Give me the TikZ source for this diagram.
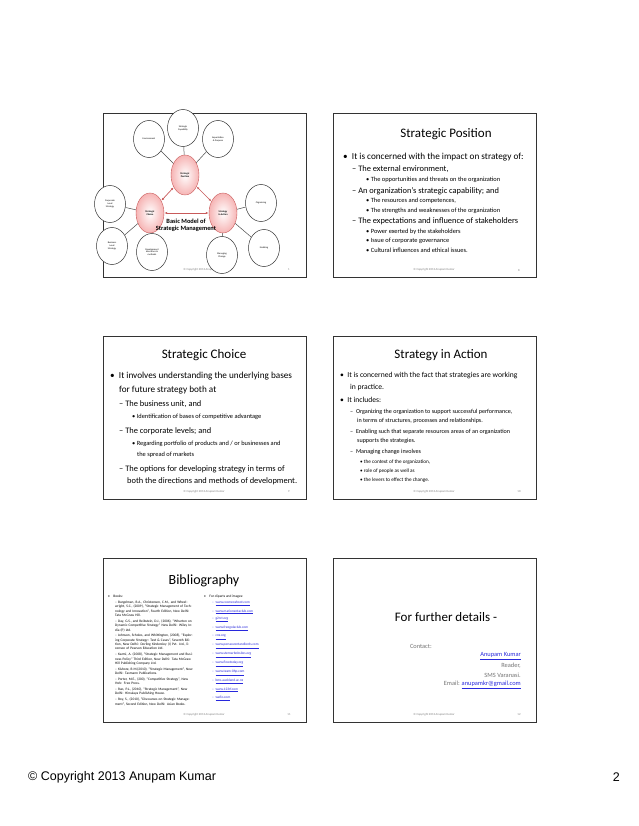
\documentclass[tikz,border=0pt]{standalone}
\usepackage{fontspec}
\setmainfont{Carlito}
\newfontfamily\arialf{Liberation Sans}
\usetikzlibrary{arrows.meta,shapes.geometric}
\definecolor{pinkf}{RGB}{246,180,180}
\definecolor{pinkd}{RGB}{200,90,90}
\definecolor{linkc}{RGB}{40,40,220}
\tikzset{
 slide/.style={draw=black!80,line width=0.8pt,fill=white},
 outer/.style={draw=black!80,ellipse,line width=0.5pt,minimum width=31pt,minimum height=37pt,inner sep=0pt,font=\fontsize{2.4}{2.8}\selectfont,align=center,fill=white},
 inner/.style={draw=pinkd,ellipse,line width=0.4pt,minimum width=28pt,minimum height=40pt,inner sep=0pt,font=\bfseries\fontsize{2.5}{3}\selectfont,align=center,inner color=white,outer color=pinkf},
 stitle/.style={font=\fontsize{13}{15}\selectfont},
 la/.style={anchor=west,inner sep=0pt,font=\fontsize{9.2}{11}\selectfont},
 lb/.style={anchor=west,inner sep=0pt,font=\fontsize{8.4}{10}\selectfont},
 lc/.style={anchor=west,inner sep=0pt,font=\fontsize{6.4}{7.5}\selectfont},
 foot/.style={font=\fontsize{3}{3.5}\selectfont,text=black!50,inner sep=0pt},
 bib/.style={anchor=north west,inner sep=0pt,font=\fontsize{3.5}{4.3}\selectfont,align=left},
 redarr/.style={{Latex[length=3pt]}-{Latex[length=3pt]},draw=pinkd,line width=0.7pt},
 con/.style={draw=black!70,line width=0.5pt}
}
\begin{document}
\begin{tikzpicture}[x=1pt,y=-1pt]
\useasboundingbox[fill=white] (0,0) rectangle (638,826);
% frames
\draw[slide] (103,113) rectangle (306,277);
\draw[slide] (333,113) rectangle (536,277);
\draw[slide] (103,336) rectangle (306,499);
\draw[slide] (333,336) rectangle (536,499);
\draw[slide] (103,558) rectangle (306,722);
\draw[slide] (333,558) rectangle (536,722);
% footers
\foreach \x/\y/\n in {103/270/1,333/270/8,103/492/9,333/492/10,103/715/11,333/715/12}{
 \node[foot] at (\x+101,\y) {© Copyright 2013 Anupam Kumar};
 \node[foot] at (\x+186,\y) {\n};
}
% slide 1
\node[inner] (sp) at (185,175) {Strategic\\Position};
\node[inner] (sc) at (150,213) {Strategic\\Choice};
\node[inner] (sa) at (223,213) {Strategy\\in Action};
\node[outer] (env) at (149,139) {Environment};
\node[outer] (cap) at (183,128) {Strategic\\Capability};
\node[outer] (exp) at (218,139) {Expectation\\\& Purpose};
\node[outer] (cls) at (110,204) {Corporate\\Level\\Strategy};
\node[outer] (bls) at (112,246) {Business\\Level\\Strategy};
\node[outer] (ddm) at (152,252) {Development\\directions \&\\methods};
\node[outer] (org) at (261,203) {Organising};
\node[outer] (ena) at (264,248) {Enabling};
\node[outer] (mch) at (222,255) {Managing\\Change};
\foreach \a/\b in {env/sp,cap/sp,exp/sp,cls/sc,bls/sc,ddm/sc,org/sa,ena/sa,mch/sa}{\draw[con] (\a) -- (\b);}
\draw[redarr] (sp) -- (sc);
\draw[redarr] (sp) -- (sa);
\draw[redarr] (sc) -- (sa);
\node[font=\bfseries\fontsize{6.4}{7.2}\selectfont,align=center,inner sep=1pt] (bm) at (186,225) {Basic Model of\\Strategic Management};
% slide 2
\node[stitle] (t2) at (446,134) {Strategic Position};
\node[la] at (343,157) {•\ \ It is concerned with the impact on strategy of:};
\node[lb] at (352,169) {– The external environment,};
\node[lc] at (366,180) {•\ The opportunities and threats on the organization};
\node[lb] at (352,191) {– An organization’s strategic capability; and};
\node[lc] at (366,201) {•\ The resources and competences,};
\node[lc] at (366,211) {•\ The strengths and weaknesses of the organization};
\node[lb] at (352,221) {– The expectations and influence of stakeholders};
\node[lc] at (366,232) {•\ Power exerted by the stakeholders};
\node[lc] at (366,241) {•\ Issue of corporate governance};
\node[lc] at (366,250) {•\ Cultural influences and ethical issues.};
% slide 3
\node[stitle] (t3) at (204,355) {Strategic Choice};
\node[la,font=\fontsize{9.2}{11}\selectfont] at (110,376) {•\ \ It involves understanding the underlying bases};
\node[la,font=\fontsize{9.2}{11}\selectfont] at (119,390) {for future strategy both at};
\node[la,font=\fontsize{8.4}{10}\selectfont] at (119,404) {– The business unit, and};
\node[lc,font=\fontsize{6.4}{7.5}\selectfont] at (132,417) {•\ Identification of bases of competitive advantage};
\node[la,font=\fontsize{8.4}{10}\selectfont] at (119,431) {– The corporate levels; and};
\node[lc,font=\fontsize{6.4}{7.5}\selectfont] at (132,444) {•\ Regarding portfolio of products and / or businesses and};
\node[lc,font=\fontsize{6.4}{7.5}\selectfont] at (137,455) {the spread of markets};
\node[la,font=\fontsize{8.4}{10}\selectfont] at (119,469) {– The options for developing strategy in terms of};
\node[la,font=\fontsize{8.4}{10}\selectfont] at (127,481) {both the directions and methods of development.};
% slide 4
\node[stitle] (t4) at (441,355) {Strategy in Action};
\node[lb,font=\fontsize{7.6}{9}\selectfont] at (340,376) {•\ \ It is concerned with the fact that strategies are working};
\node[lb,font=\fontsize{7.6}{9}\selectfont] at (350,387) {in practice.};
\node[lb,font=\fontsize{7.6}{9}\selectfont] at (340,400) {•\ \ It includes:};
\node[lc,font=\fontsize{6.1}{7}\selectfont] at (350,412) {–\ \ Organizing the organization to support successful performance,};
\node[lc,font=\fontsize{6.1}{7}\selectfont] at (357,421) {in terms of structures, processes and relationships.};
\node[lc,font=\fontsize{6.1}{7}\selectfont] at (350,432) {–\ \ Enabling such that separate resources areas of an organization};
\node[lc,font=\fontsize{6.1}{7}\selectfont] at (357,441) {supports the strategies.};
\node[lc,font=\fontsize{6.1}{7}\selectfont] at (350,452) {–\ \ Managing change involves};
\node[lc,font=\fontsize{5.2}{6}\selectfont] at (360,462) {•\ the context of the organization,};
\node[lc,font=\fontsize{5.2}{6}\selectfont] at (360,471) {•\ role of people as well as};
\node[lc,font=\fontsize{5.2}{6}\selectfont] at (360,480) {•\ the levers to effect the change.};
% slide 5
\node[stitle,font=\fontsize{14}{16}\selectfont] (t5) at (204,581) {Bibliography};
\node[bib] at (108,595) {•\quad Books:};
\node[bib,text width=80pt] at (115,601) {%
–\ Burgelman, R.A., Christensen, C.M., and Wheelwright, S.C., (2009), ``Strategic Management of Technology and Innovation'', Fourth Edition, New Delhi: Tata McGraw Hill.\\[1.6pt]
–\ Day, G.S., and Reibstein, D.J., (2006), ``Wharton on Dynamic Competitive Strategy'' New Delhi: Wiley India (P) Ltd.\\[1.6pt]
–\ Johnson, Scholes, and Whittington, (2008), ``Exploring Corporate Strategy: Text \& Cases'', Seventh Edition, New Delhi: Dorling Kindersley (I) Pvt. Ltd., licensee of Pearson Education Ltd.\\[1.6pt]
–\ Kazmi, A. (2008), ``Strategic Management and Business Policy'' Third Edition, New Delhi: Tata McGraw Hill Publishing Company Ltd.\\[1.6pt]
–\ Kishore, R.M.(2010), ``Strategic Management'', New Delhi: Taxmann Publications.\\[1.6pt]
–\ Porter, M.E., (200), ``Competitive Strategy'', New York: Free Press.\\[1.6pt]
–\ Rao, P.L., (2010), ``Strategic Management'', New Delhi: Himalaya Publishing House.\\[1.6pt]
–\ Roy, S., (2010), ``Discourses on Strategic Management'', Second Edition, New Delhi: Asian Books.};
\node[bib] at (204,595) {•\quad For cliparts and images:};
\node[bib,text=linkc] at (212,601) {%
–\ \ \underline{www.cosmeoshoot.com}\\[3pt]
–\ \ \underline{www.marioneotaclub.com}\\[3pt]
–\ \ \underline{g2rct.org}\\[3pt]
–\ \ \underline{www.freegolaclub.com}\\[3pt]
–\ \ \underline{cnx.org}\\[3pt]
–\ \ \underline{www.perssoventandlords.com}\\[3pt]
–\ \ \underline{www.sternarbobsites.org}\\[3pt]
–\ \ \underline{www.flowtoday.org}\\[3pt]
–\ \ \underline{www.team-0hp.com}\\[3pt]
–\ \ \underline{bms.auckland.ac.nz}\\[3pt]
–\ \ \underline{www.123rf.com}\\[3pt]
–\ \ \underline{wafio.com}};
% slide 6
\node[font=\fontsize{13}{15}\selectfont] (t6) at (446,617) {For further details -};
\node[font=\fontsize{6.4}{7.5}\selectfont,text=black!55,anchor=east,inner sep=0pt] at (432,646) {Contact:};
\node[font=\fontsize{6.4}{7.5}\selectfont,text=linkc,anchor=east,inner sep=0pt] at (521,656) {\underline{Anupam Kumar}};
\node[font=\fontsize{6.4}{7.5}\selectfont,text=black!55,anchor=east,inner sep=0pt] at (521,666) {Reader,};
\node[font=\fontsize{6.4}{7.5}\selectfont,text=black!55,anchor=east,inner sep=0pt] at (521,675) {SMS Varanasi.};
\node[font=\fontsize{6.4}{7.5}\selectfont,text=black!55,anchor=east,inner sep=0pt] at (521,685) {Email: \textcolor{linkc}{\underline{anupamkr@gmail.com}}};
% page footer
\node[font=\arialf\fontsize{12.5}{14}\selectfont,anchor=west,inner sep=0pt] (pf) at (28,777) {© Copyright 2013 Anupam Kumar};
\node[font=\arialf\fontsize{12.5}{14}\selectfont,anchor=east,inner sep=0pt] (pn) at (620,777) {2};
\end{tikzpicture}
\end{document}
